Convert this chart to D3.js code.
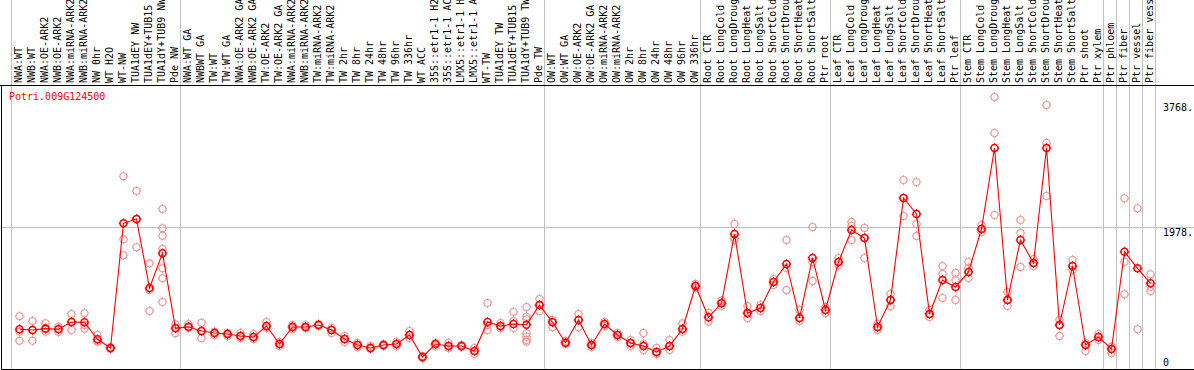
<!DOCTYPE html>
<html><head><meta charset="utf-8">
<script src="https://cdn.jsdelivr.net/npm/d3@7"></script>
<style>
body{margin:0;background:#fff}
svg{display:block}
text{font-family:"DejaVu Sans Mono",monospace;font-size:10px}
</style>
</head><body>
<svg id="chart" width="1194" height="370"></svg>
<script>
const geneId = "Potri.009G124500";

const categories = [
"NWA:WT","NWB:WT","NWA:OE-ARK2","NWB:OE-ARK2","NWA:miRNA-ARK2","NWB:miRNA-ARK2","NW 0hr","WT H2O","WT-NW","TUA1dEY NW","TUA1dEY+TUB15","TUA1dY+TUB9 NW","Pde NW",
"NWA:WT GA","NWBWT GA","TW:WT","TW:WT GA","NWA:OE-ARK2 GA","NWB:OE-ARK2 GA","TW:OE-ARK2","TW:OE-ARK2 GA","NWA:miRNA-ARK2","NWB:miRNA-ARK2","TW:miRNA-ARK2","TW:miRNA-ARK2","TW 2hr","TW 8hr","TW 24hr","TW 48hr","TW 96hr","TW 336hr","WT ACC","35S::etr1-1 H2","35S::etr1-1 AC","LMX5::etr1-1 H","LMX5::etr1-1 A","WT-TW","TUA1dEY TW","TUA1dEY+TUB15","TUA1dY+TUB9 TW","Pde TW",
"OW:WT","OW:WT GA","OW:OE-ARK2","OW:OE-ARK2 GA","OW:miRNA-ARK2","OW:miRNA-ARK2","OW 2hr","OW 8hr","OW 24hr","OW 48hr","OW 96hr","OW 336hr",
"Root CTR","Root LongCold","Root LongDroug","Root LongHeat","Root LongSalt","Root ShortCold","Root ShortDrou","Root ShortHeat","Root ShortSalt","Ptr root",
"Leaf CTR","Leaf LongCold","Leaf LongDroug","Leaf LongHeat","Leaf LongSalt","Leaf ShortCold","Leaf ShortDrou","Leaf ShortHeat","Leaf ShortSalt","Ptr leaf",
"Stem CTR","Stem LongCold","Stem LongDroug","Stem LongHeat","Stem LongSalt","Stem ShortCold","Stem ShortDrou","Stem ShortHeat","Stem ShortSalt","Ptr shoot","Ptr xylem",
"Ptr phloem","Ptr fiber","Ptr vessel","Ptr fiber vess"
];

const groupSizes = [13, 28, 12, 10, 10, 11, 1, 1, 1, 1];

const meanValues = [
529,519,538,529,633,629,387,263,2036,2097,1116,1610,543,
566,505,476,462,434,419,576,320,562,562,590,519,391,306,263,306,320,448,135,320,292,292,220,633,576,604,594,875,
629,338,661,306,604,448,334,292,206,292,533,1145,
700,899,1884,759,832,1202,1458,690,1543,804,
1486,1941,1827,562,946,2396,2169,747,1230,1131,
1344,1955,3107,946,1799,1472,3107,590,1429,306,419,
249,1632,1396,1183
];

const replicateValues = [
[714,495,367],[647,519,367],[614,547,495],[566,533,491],[747,633,519],[757,590,538],[448,363,353],[277,263,249],
[2705,1809,1581],[2496,2097,1695],[1467,1088,789],[2240,1965,1860,1671,1396,1254,917],[600,547,472],
[604,562,547],[623,505,401],[495,476,448],[476,462,434],[476,434,405],[462,419,391],[633,576,547],[348,320,292],
[590,562,533],[590,562,547],[604,590,576],[547,519,476],[434,391,348],[334,306,277],[292,263,249],[320,306,292],
[348,320,292],[505,448,405],[149,135,121],[334,320,292],[334,292,263],[306,292,277],[263,220,178],[903,590,519],
[619,576,547],[775,647,547],[846,708,671,472,424,377,353],[960,875,789],
[661,629,557],[363,338,320],[747,661,562],[334,306,277],[633,604,576],[476,448,419],[377,334,292],[476,320,235],
[263,206,178],[377,292,235],[614,533,495],[1173,1145,1116],
[765,700,637],[936,899,860],[2026,1827,1799],[860,759,690],[875,832,789],[1244,1202,1159],[1799,1401,1088],
[804,690,647],[1984,1486,1216],[846,804,761],
[1543,1486,1443],[2055,1998,1799],[1969,1827,1543],[604,562,519],[1031,946,860],[2652,2396,2140],[2624,2027,1856],
[804,747,704],[1429,1315,974],[1330,1230,946],
[1486,1401,1258],[2012,1955,1913],[3832,3320,2154],[1059,946,860],[2083,1898,1415],[1529,1472,1429],[3718,3178,2425],
[661,590,434],[1514,1429,1372],[334,306,220],[462,419,377],
[282,249,192],[2392,1490,1027],[2250,529],[1311,1135,1074]
];

const yTickValues = [0, 1978, 3768];
const yTickLabels = ["0", "1978.", "3768."];
const gridValues = [1978];

// ---------- drawing ----------
const W = 1194, H = 370;
const svg = d3.select("#chart");
const n = categories.length;
const step = 13;
const x = d3.scaleBand().domain(d3.range(n)).range([11.5, 11.5 + step * n]);
const px = i => x(i) + 8;
const y = d3.scaleLinear().domain([0, 3768]).range([366.5, 101.5]);

const plotTop = 85.5, plotBottom = 369.5, plotLeft = 1.5;
const gray = "#c0c0c0";
const repColor = "#f29494";
const red = "#ff0000";

// group separator lines
const bounds = [0];
groupSizes.forEach(s => bounds.push(bounds[bounds.length - 1] + s));
svg.append("g").selectAll("line").data(bounds).join("line")
  .attr("x1", k => k < n ? x(k) : x.range()[1])
  .attr("x2", k => k < n ? x(k) : x.range()[1])
  .attr("y1", 0).attr("y2", plotBottom)
  .attr("stroke", gray).attr("stroke-width", 1);

// horizontal grid
svg.append("g").selectAll("line").data(gridValues).join("line")
  .attr("x1", plotLeft).attr("x2", W)
  .attr("y1", d => Math.round(y(d)) + 0.5).attr("y2", d => Math.round(y(d)) + 0.5)
  .attr("stroke", gray).attr("stroke-width", 1);

// frame
svg.append("line").attr("x1", 0).attr("x2", W).attr("y1", plotTop).attr("y2", plotTop).attr("stroke", "#000");
svg.append("line").attr("x1", plotLeft).attr("x2", plotLeft).attr("y1", plotTop).attr("y2", H).attr("stroke", "#000");
svg.append("line").attr("x1", plotLeft).attr("x2", W).attr("y1", plotBottom).attr("y2", plotBottom).attr("stroke", "#000");

// category labels
svg.append("g").selectAll("text").data(categories).join("text")
  .attr("transform", (d, i) => `translate(${px(i) + 2.5},83) rotate(-90)`)
  .attr("text-anchor", "start")
  .attr("fill", "#000")
  .text(d => d);

// y tick labels
svg.append("g").selectAll("text").data(yTickValues).join("text")
  .attr("x", 1163)
  .attr("y", d => d === 0 ? y(d) - 1 : y(d) + 9)
  .attr("fill", "#000")
  .text((d, i) => yTickLabels[i]);

// title
svg.append("text").attr("x", 9).attr("y", 100).attr("fill", red).text(geneId);

// marker shape: circle with small ticks
function marker(g, cx, cy, color, sw) {
  g.append("circle").attr("cx", cx).attr("cy", cy).attr("r", 3.5)
    .attr("fill", "none").attr("stroke", color).attr("stroke-width", sw);
  g.append("path")
    .attr("d", `M${cx},${cy-4.8}v1.2M${cx},${cy+3.6}v1.2M${cx-4.8},${cy}h1.2M${cx+3.6},${cy}h1.2`)
    .attr("stroke", color).attr("stroke-width", 1).attr("fill", "none");
}

// replicates
const repG = svg.append("g");
replicateValues.forEach((reps, i) => {
  reps.forEach(v => marker(repG, px(i), y(v), repColor, 1.1));
});

// mean line
const line = d3.line().x((d, i) => px(i)).y(d => y(d));
svg.append("path").datum(meanValues).attr("d", line)
  .attr("fill", "none").attr("stroke", red).attr("stroke-width", 1.1);

// mean markers
const meanG = svg.append("g");
meanValues.forEach((v, i) => marker(meanG, px(i), y(v), red, 1.6));
</script>
</body></html>
